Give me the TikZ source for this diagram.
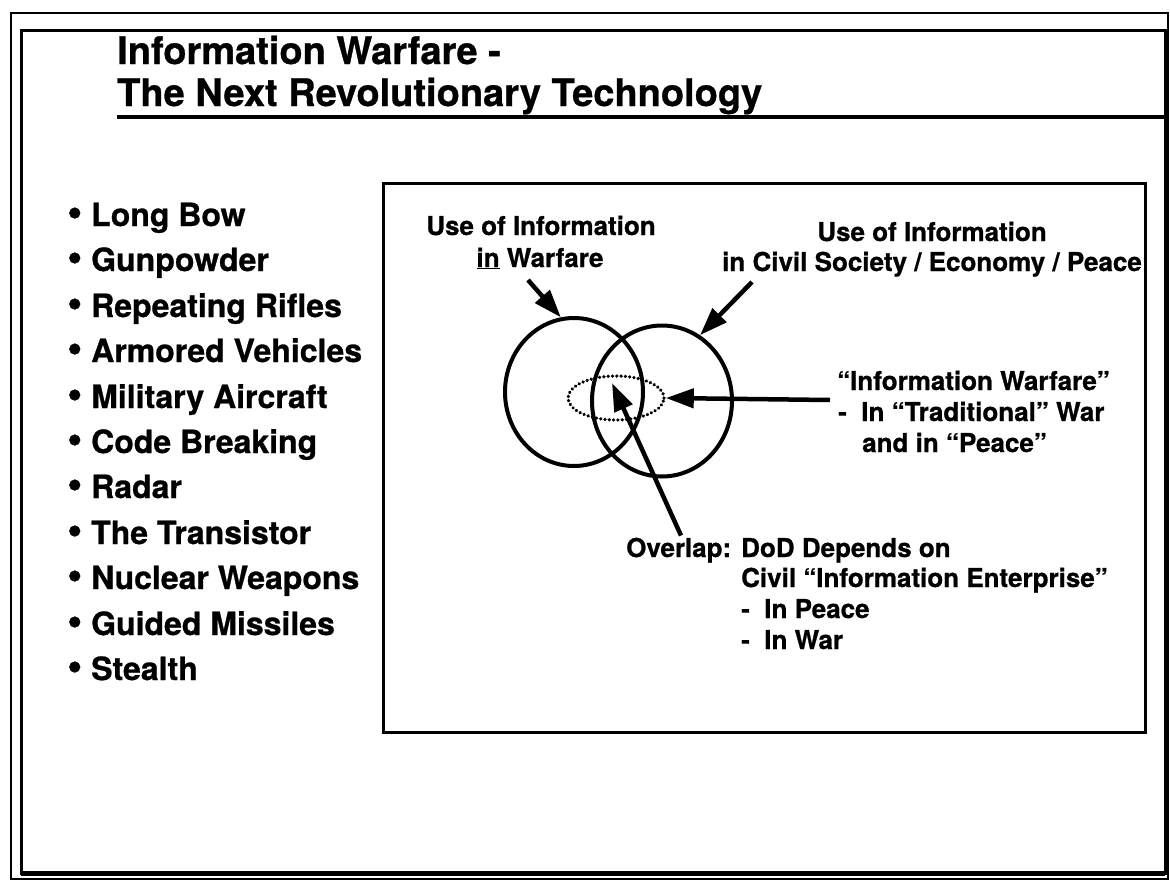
\documentclass[tikz,border=0pt]{standalone}
\usepackage{fontspec}
\setmainfont[BoldFeatures={FakeBold=0.8}]{TeX Gyre Heros}
\usetikzlibrary{arrows.meta,shapes.geometric}
\newcommand{\dotmark}{\scalebox{1.35}{\textbullet}}
\tikzset{
    pointer/.style={draw=black, line width=4.5pt, -{Triangle[length=28pt,width=19pt]}},
    ring/.style={draw=black, ellipse, line width=4pt, inner sep=0pt},
    dotring/.style={draw=black, ellipse, line width=3.6pt, inner sep=0pt,
        line cap=round, dash pattern=on 0.01pt off 4.3pt},
    heading/.style={anchor=base west, inner sep=0pt, font=\bfseries\fontsize{38}{44}\selectfont},
    item/.style={anchor=base west, inner sep=0pt, font=\bfseries\fontsize{32}{38}\selectfont},
    tag/.style={anchor=base, inner sep=0pt, font=\bfseries\fontsize{26}{30}\selectfont},
    tagleft/.style={tag, anchor=base west},
}

\begin{document}
\begin{tikzpicture}[x=1pt,y=-1pt]
        \useasboundingbox (0,0) rectangle (1170,889);
        % frame
        \draw[line width=2pt] (11,13) rectangle (1168,879);
        \draw[line width=3pt] (21,30) rectangle (1165,873);
        \draw[line width=5pt] (21,873) -- (1165,873);
        % title
        \node[heading] (title1) at (117,64) {Information Warfare -};
        \node[heading] (title2) at (117,106) {The Next Revolutionary Technology};
        \draw[line width=4pt] (117,117) -- (1165,117);
        % list
        \node[item] (bow) at (67,226) {\dotmark\ Long Bow};
        \node[item] (powder) at (67,271) {\dotmark\ Gunpowder};
        \node[item] (rifles) at (67,317) {\dotmark\ Repeating Rifles};
        \node[item] (armor) at (67,362) {\dotmark\ Armored Vehicles};
        \node[item] (aircraft) at (67,408) {\dotmark\ Military Aircraft};
        \node[item] (codes) at (67,453) {\dotmark\ Code Breaking};
        \node[item] (radar) at (67,498) {\dotmark\ Radar};
        \node[item] (transistor) at (67,544) {\dotmark\ The Transistor};
        \node[item] (nuclear) at (67,589) {\dotmark\ Nuclear Weapons};
        \node[item] (missiles) at (67,635) {\dotmark\ Guided Missiles};
        \node[item] (stealth) at (67,680) {\dotmark\ Stealth};
        % diagram
        \draw[line width=3pt] (383,183) rectangle (1145,732);
        \node[ring, minimum width=138pt, minimum height=148pt] (war) at (574,392) {};
        \node[ring, minimum width=140pt, minimum height=151pt] (civ) at (662,401) {};
        \node[dotring, minimum width=96pt, minimum height=44pt] (iw) at (616,398) {};
        \node[tag] (warA) at (541,235) {Use of Information};
        \node[tag] (warB) at (540,267) {\underline{in} Warfare};
        \node[tag] (civA) at (932,241) {Use of Information};
        \node[tag] (civB) at (932,271) {in Civil Society / Economy / Peace};
        \node[tagleft] (iwA) at (837,390) {``Information Warfare''};
        \node[tagleft] (iwB) at (838,421) {-~~In ``Traditional'' War};
        \node[tagleft] (iwC) at (862,452) {and in ``Peace''};
        \node[tagleft] (ovl) at (626,557) {Overlap:};
        \node[tagleft] (dod) at (741,557) {DoD Depends on};
        \node[tagleft] (enter) at (741,587) {Civil ``Information Enterprise''};
        \node[tagleft] (peace) at (741,618) {-~~In Peace};
        \node[tagleft] (wartime) at (741,649) {-~~In War};
        \coordinate (warTail) at (528,280);
        \coordinate (civTail) at (752,282);
        \coordinate (iwTail) at (830,400);
        \coordinate (ovlTip) at (612,383);
        \draw[pointer] (warTail) -- (war.100);
        \draw[pointer] (civTail) -- (civ.60);
        \draw[pointer] (iwTail) -- (iw.east);
        \draw[pointer] ([xshift=55pt,yshift=2pt]ovl.north west) -- (ovlTip);
\end{tikzpicture}
\end{document}
